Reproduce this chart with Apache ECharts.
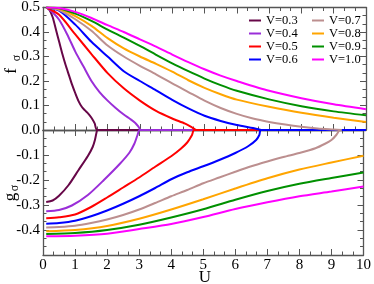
<!DOCTYPE html>
<html><head><meta charset="utf-8">
<script src="https://cdn.jsdelivr.net/npm/echarts@6/dist/echarts.min.js"></script>
<style>html,body{margin:0;padding:0;background:#fff}#c{width:374px;height:284px}</style>
</head><body><div id="c"></div>
<script>
var seriesNames = ['V=0.3','V=0.4','V=0.5','V=0.6','V=0.7','V=0.8','V=0.9','V=1.0'];
var colors = ['#670748','#9a2ed8','#ff0000','#0000ff','#bc8f8f','#ffa500','#009000','#ff00ff'];
var xTicks = [0,1,2,3,4,5,6,7,8,9,10];
var fTicks = [0.0,0.1,0.2,0.3,0.4,0.5];
var gTicks = [-0.4,-0.3,-0.2,-0.1];

// f_sigma (top panel): [U, f]
var f03 = [[0.1,0.5],[0.2,0.49],[0.3,0.46],[0.4,0.41],[0.5,0.36],[0.6,0.31],[0.7,0.265],[0.8,0.225],[0.9,0.185],[1.0,0.15],[1.1,0.118],[1.2,0.095],[1.3,0.08],[1.4,0.067],[1.5,0.05],[1.6,0.027],[1.68,0.0],[10,0]];
var f04 = [[0.1,0.5],[0.3,0.48],[0.5,0.45],[0.75,0.39],[1.0,0.32],[1.25,0.26],[1.5,0.2],[1.75,0.155],[2.0,0.12],[2.25,0.09],[2.5,0.063],[2.7,0.045],[2.85,0.03],[2.95,0.015],[3.03,0],[10,0]];
var f05 = [[0.1,0.5],[0.5,0.47],[1.0,0.39],[1.5,0.31],[2.0,0.232],[2.5,0.17],[3.0,0.12],[3.5,0.078],[4.0,0.047],[4.4,0.026],[4.6,0.012],[4.75,0],[10,0]];
var f06 = [[0.1,0.5],[0.5,0.487],[1.0,0.43],[1.5,0.36],[2.0,0.3],[2.5,0.24],[3.0,0.2],[3.5,0.162],[4.0,0.123],[4.5,0.088],[5.0,0.058],[5.5,0.037],[6.0,0.02],[6.5,0.008],[6.8,0],[10,0]];
var f07 = [[0.1,0.5],[0.5,0.49],[1.0,0.452],[1.5,0.405],[2.0,0.345],[2.5,0.3],[3.0,0.262],[3.5,0.227],[4.0,0.19],[4.5,0.155],[5.0,0.12],[5.5,0.09],[6.0,0.066],[6.5,0.047],[7.0,0.033],[7.5,0.022],[8.0,0.013],[8.5,0.006],[9.0,0.002],[9.25,0]];
var f08 = [[0.1,0.5],[0.5,0.495],[1.0,0.465],[1.5,0.425],[2.0,0.375],[2.5,0.333],[3.0,0.3],[3.5,0.27],[4.0,0.238],[4.5,0.203],[5.0,0.172],[5.5,0.146],[6.0,0.124],[7.0,0.095],[8.0,0.07],[9.0,0.05],[10,0.033]];
var f09 = [[0.1,0.5],[0.5,0.497],[1.0,0.475],[1.5,0.445],[2.0,0.41],[2.5,0.377],[3.0,0.343],[3.5,0.307],[4.0,0.272],[4.5,0.24],[5.0,0.21],[5.5,0.183],[6.0,0.16],[7.0,0.125],[8.0,0.097],[9.0,0.076],[10,0.06]];
var f10 = [[0.1,0.5],[0.5,0.498],[1.0,0.482],[1.5,0.457],[2.0,0.428],[2.5,0.4],[3.0,0.37],[3.5,0.34],[4.0,0.308],[4.5,0.277],[5.0,0.248],[5.5,0.222],[6.0,0.2],[7.0,0.16],[8.0,0.13],[9.0,0.105],[10,0.085]];

// g_sigma (bottom panel): [U, g]
var g03 = [[0.1,-0.288],[0.3,-0.282],[0.5,-0.263],[0.8,-0.22],[1.1,-0.162],[1.4,-0.104],[1.55,-0.068],[1.62,-0.04],[1.67,-0.01],[1.7,0],[10,0]];
var g04 = [[0.1,-0.325],[0.5,-0.32],[0.9,-0.302],[1.4,-0.26],[1.9,-0.2],[2.4,-0.135],[2.7,-0.09],[2.85,-0.055],[2.95,-0.02],[3.02,0],[10,0]];
var g05 = [[0.1,-0.353],[0.5,-0.349],[1.0,-0.338],[1.5,-0.308],[2.0,-0.27],[2.5,-0.23],[3.0,-0.19],[3.5,-0.147],[4.0,-0.105],[4.3,-0.075],[4.5,-0.05],[4.65,-0.02],[4.72,0],[10,0]];
var g06 = [[0.1,-0.375],[0.5,-0.372],[1.0,-0.363],[1.5,-0.345],[2.0,-0.322],[2.5,-0.295],[3.0,-0.265],[3.5,-0.232],[4.0,-0.197],[4.5,-0.169],[5.0,-0.145],[5.5,-0.12],[6.0,-0.092],[6.4,-0.065],[6.65,-0.04],[6.75,-0.02],[6.8,0],[10,0]];
var g07 = [[0.1,-0.39],[0.5,-0.388],[1.0,-0.383],[1.5,-0.372],[2.0,-0.358],[2.5,-0.34],[3.0,-0.318],[3.5,-0.292],[4.0,-0.265],[4.5,-0.24],[5.0,-0.213],[5.5,-0.19],[6.0,-0.167],[6.5,-0.145],[7.0,-0.126],[7.5,-0.108],[8.0,-0.092],[8.5,-0.073],[8.8,-0.055],[9.0,-0.04],[9.15,-0.02],[9.25,0]];
var g08 = [[0.1,-0.405],[1.0,-0.4],[2.0,-0.384],[3.0,-0.355],[4.0,-0.318],[5.0,-0.277],[6.0,-0.234],[7.0,-0.193],[8.0,-0.158],[9.0,-0.13],[10,-0.103]];
var g09 = [[0.1,-0.416],[1.0,-0.412],[2.0,-0.4],[3.0,-0.379],[4.0,-0.35],[5.0,-0.317],[6.0,-0.279],[7.0,-0.244],[8.0,-0.215],[9.0,-0.192],[10,-0.17]];
var g10 = [[0.1,-0.425],[1.0,-0.423],[2.0,-0.415],[3.0,-0.396],[4.0,-0.376],[5.0,-0.348],[6.0,-0.316],[7.0,-0.289],[8.0,-0.265],[9.0,-0.246],[10,-0.226]];

var fData = [f03,f04,f05,f06,f07,f08,f09,f10];
var gData = [g03,g04,g05,g06,g07,g08,g09,g10];

var FONT = 'Liberation Serif';
var axisCol = '#555';
function xAx(grid, pos, labels) {
  return {type:'value', gridIndex:grid, position:pos, min:xTicks[0], max:xTicks[xTicks.length-1], interval:1,
    axisLine:{show:true, onZero:false, lineStyle:{color:axisCol, width:1.3}},
    axisTick:{show:true, inside:true, length:6, lineStyle:{color:axisCol}},
    minorTick:{show:true, splitNumber:3, length:3.5, lineStyle:{color:axisCol}},
    splitLine:{show:false},
    axisLabel:{show:labels, color:'#000', fontFamily:FONT, fontSize:15, margin:3}};
}
function yAx(grid, pos, min, max, labels, fmt) {
  return {type:'value', gridIndex:grid, position:pos, min:min, max:max, interval:0.1,
    axisLine:{show:true, onZero:false, lineStyle:{color:axisCol, width:1.3}},
    axisTick:{show:true, inside:true, length:6, lineStyle:{color:axisCol}},
    minorTick:{show:true, splitNumber:3, length:3.5, lineStyle:{color:axisCol}},
    splitLine:{show:false},
    axisLabel:{show:labels, color:'#000', fontFamily:FONT, fontSize:15, margin:3, formatter:fmt}};
}
var series = [];
for (var i=0;i<seriesNames.length;i++){
  series.push({name:seriesNames[i], type:'line', xAxisIndex:0, yAxisIndex:0, data:fData[i], symbol:'none', smooth:0.25,
    lineStyle:{width:2, color:colors[i]}, itemStyle:{color:colors[i]}, z:2+i});
}
for (var j=0;j<seriesNames.length;j++){
  series.push({name:seriesNames[j], type:'line', xAxisIndex:2, yAxisIndex:2, data:gData[j], symbol:'none', smooth:0.25,
    lineStyle:{width:2, color:colors[j]}, itemStyle:{color:colors[j]}, z:2+j});
}
var legendBase = {orient:'vertical', top:9, itemWidth:12, itemHeight:2, icon:'rect', itemGap:0,
  textStyle:{fontFamily:FONT, fontSize:12.5, color:'#000', lineHeight:12, padding:[0,0,0,0]}, selectedMode:false};
var opt = {
  animation:false,
  grid:[{left:43, right:8, top:5, height:125}, {left:43, right:8, top:130, height:125}],
  xAxis:[xAx(0,'bottom',false), xAx(0,'top',false), xAx(1,'bottom',true), xAx(1,'top',false)],
  yAxis:[
    yAx(0,'left',0,0.5,true,function(v){return v.toFixed(1);}),
    yAx(0,'right',0,0.5,false),
    yAx(1,'left',-0.5,0,true,function(v){ if (Math.abs(v)<1e-9 || v< -0.45) return ''; return v.toFixed(1);}),
    yAx(1,'right',-0.5,0,false)
  ],
  legend:[
    Object.assign({}, legendBase, {left:244, data:seriesNames.slice(0,4)}),
    Object.assign({}, legendBase, {left:307, data:seriesNames.slice(4,8)})
  ],
  graphic:[
    {type:'text', x:12, y:71, rotation:Math.PI/2, style:{text:'f', font:'17px "Liberation Serif"', fill:'#000', textAlign:'center', textVerticalAlign:'middle'}},
    {type:'text', x:17, y:58, rotation:Math.PI/2, style:{text:'σ', font:'12px "Liberation Serif"', fill:'#000', textAlign:'center', textVerticalAlign:'middle'}},
    {type:'text', x:11, y:197, rotation:Math.PI/2, style:{text:'g', font:'17px "Liberation Serif"', fill:'#000', textAlign:'center', textVerticalAlign:'middle'}},
    {type:'text', x:15, y:188, rotation:Math.PI/2, style:{text:'σ', font:'12px "Liberation Serif"', fill:'#000', textAlign:'center', textVerticalAlign:'middle'}},
    {type:'text', x:205, y:278, style:{text:'U', font:'17px "Liberation Serif"', fill:'#000', textAlign:'center', textVerticalAlign:'middle'}}
  ],
  series:series
};
var chart = echarts.init(document.getElementById('c'), null, {renderer:'canvas'});
chart.setOption(opt);
</script></body></html>
